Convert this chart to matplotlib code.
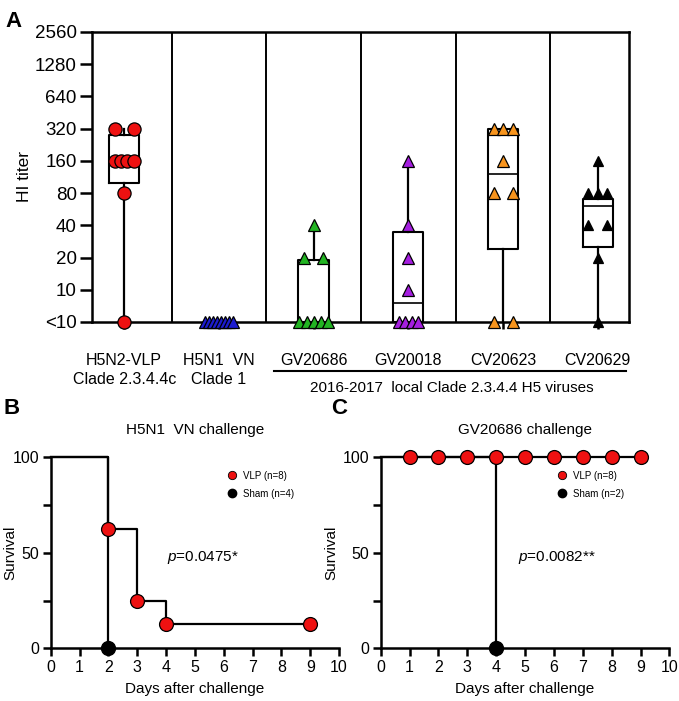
import numpy as np
import matplotlib.pyplot as plt
from matplotlib.lines import Line2D
import matplotlib.transforms as mtransforms

plt.rcParams['font.family'] = ['Liberation Sans', 'DejaVu Sans']
plt.rcParams['mathtext.fontset'] = 'custom'
plt.rcParams['mathtext.rm'] = 'Liberation Sans'
plt.rcParams['mathtext.it'] = 'Liberation Sans:italic'

# ---- panel A data (5 stands for "<10") ----
groups = ['H5N2-VLP\nClade 2.3.4.4c', 'H5N1  VN\nClade 1', 'GV20686',
          'GV20018', 'CV20623', 'CV20629']
vlp_titer = [320, 320, 160, 160, 160, 160, 80, 5]
vn_titer = [5, 5, 5, 5, 5, 5, 5, 5]
gv20686_titer = [40, 20, 20, 5, 5, 5, 5, 5]
gv20018_titer = [160, 40, 20, 10, 5, 5, 5, 5]
cv20623_titer = [320, 320, 320, 160, 80, 80, 5, 5]
cv20629_titer = [160, 80, 80, 80, 40, 40, 20, 5]
box_q1 = [100, 5, 5, 5, 24, 25]
box_med = [160, 5, 5, 7.5, 120, 60]
box_q3 = [280, 5, 19, 35, 320, 70]
ytick_vals = [5, 10, 20, 40, 80, 160, 320, 640, 1280, 2560]
ytick_labels = ['<10', '10', '20', '40', '80', '160', '320', '640', '1280', '2560']

titers = [vlp_titer, vn_titer, gv20686_titer, gv20018_titer, cv20623_titer, cv20629_titer]
colors = ['#ee1111', '#1c1cd0', '#22b422', '#a51ee0', '#f7941d', '#000000']
markers = ['o', '^', '^', '^', '^', '^']
msizes = [9.5, 9, 9, 9, 9, 7]

# ---- panel B / C data ----
b_vlp_days = [0, 2, 3, 4, 9]
b_vlp_surv = [100, 62.5, 25, 12.5, 12.5]
b_sham_days = [0, 2]
b_sham_surv = [100, 0]
c_vlp_days = [0, 1, 2, 3, 4, 5, 6, 7, 8, 9]
c_vlp_surv = [100, 100, 100, 100, 100, 100, 100, 100, 100, 100]
c_sham_days = [0, 4]
c_sham_surv = [100, 0]

fig = plt.figure(figsize=(6.79, 7.01), dpi=100)

# ================= panel A =================
axA = fig.add_axes([0.1355, 0.5407, 0.7909, 0.4137])
axA.set_yscale('log', base=2)
axA.set_ylim(5, 2560)
axA.set_xlim(-0.34, 5.33)

stats = []
for i in range(len(groups)):
    stats.append(dict(med=box_med[i], q1=box_q1[i], q3=box_q3[i],
                      whislo=min(titers[i]), whishi=max(titers[i]), fliers=[]))
axA.bxp(stats, positions=range(len(groups)), widths=0.32, showcaps=False,
        boxprops=dict(color='black', lw=1.5), whiskerprops=dict(color='black', lw=1.6),
        medianprops=dict(color='black', lw=1.2), manage_ticks=False, zorder=2)

for i, vals in enumerate(titers):
    vals = np.array(vals)
    for v in np.unique(vals):
        k = int((vals == v).sum())
        half = 0.0 if k == 1 else (0.1 if k <= 4 else 0.15)
        xs = i + np.linspace(-half, half, k)
        axA.plot(xs, [v] * k, ls='none', marker=markers[i], ms=msizes[i],
                 mfc=colors[i], mec='black', mew=0.9, clip_on=False, zorder=4)

for xs in np.arange(0.5, 5, 1):
    axA.axvline(xs, color='black', lw=1.4, zorder=1)

for s in axA.spines.values():
    s.set_linewidth(1.8)
axA.set_yticks(ytick_vals)
axA.set_yticklabels(ytick_labels)
axA.yaxis.set_minor_locator(plt.NullLocator())
axA.tick_params(axis='y', length=9, width=1.8, labelsize=13.5, pad=2)
axA.set_xticks(range(len(groups)))
axA.set_xticklabels(groups, linespacing=1.35)
axA.tick_params(axis='x', length=5, width=1.8, labelsize=11.5, pad=17)
axA.set_ylabel('HI titer', fontsize=12.5, labelpad=2)

trans = mtransforms.blended_transform_factory(fig.transFigure, axA.transAxes)
axA.add_line(Line2D([274 / 679, 626 / 679], [-0.169, -0.169], color='black', lw=1.5,
                    transform=trans, clip_on=False))
axA.text(452 / 679, -0.228, '2016-2017  local Clade 2.3.4.4 H5 viruses', transform=trans,
         ha='center', va='center', fontsize=11)

fig.text(0.008, 0.985, 'A', fontsize=16, fontweight='bold', va='top')
fig.text(0.005, 0.432, 'B', fontsize=16, fontweight='bold', va='top')
fig.text(0.487, 0.432, 'C', fontsize=16, fontweight='bold', va='top')


# ================= panels B, C =================
def survival_panel(ax, vlp_d, vlp_s, sham_d, sham_s, title, ptext, px, n_vlp, n_sham, ylab_x):
    ax.step(vlp_d, vlp_s, where='post', color='black', lw=1.6, zorder=2, clip_on=False)
    ax.step(sham_d, sham_s, where='post', color='black', lw=1.6, zorder=2, clip_on=False)
    ax.plot(vlp_d[1:], vlp_s[1:], ls='none', marker='o', ms=10, mfc='#ee1111',
            mec='black', mew=0.9, zorder=4, clip_on=False)
    ax.plot(sham_d[1:], sham_s[1:], ls='none', marker='o', ms=10, mfc='black',
            mec='black', zorder=4, clip_on=False)
    ax.set_xlim(0, 10)
    ax.set_ylim(0, 100)
    ax.set_xticks(range(11))
    ax.set_yticks([0, 25, 50, 75, 100])
    ax.set_yticklabels(['0', '', '50', '', '100'])
    for side in ['top', 'right']:
        ax.spines[side].set_visible(False)
    for side in ['left', 'bottom']:
        ax.spines[side].set_linewidth(1.8)
    ax.tick_params(length=5.5, width=1.8, labelsize=11.5, pad=3)
    ax.set_xlabel('Days after challenge', fontsize=11, labelpad=5)
    ax.set_ylabel('Survival', fontsize=11)
    ax.yaxis.set_label_coords(ylab_x, 0.5)
    ax.set_title(title, fontsize=11, pad=17)
    ax.text(px, 47.8, ptext, fontsize=11, va='center', ha='left')
    handles = [Line2D([], [], ls='none', marker='o', ms=6, mfc='#ee1111', mec='black', mew=0.6,
                      label='VLP (n=%d)' % n_vlp),
               Line2D([], [], ls='none', marker='o', ms=6, mfc='black', mec='black',
                      label='Sham (n=%d)' % n_sham)]
    ax.legend(handles=handles, loc='upper left', bbox_to_anchor=(0.58, 0.95), frameon=False,
              fontsize=7, handletextpad=0.2, labelspacing=0.8, borderaxespad=0)


axB = fig.add_axes([0.0747, 0.0752, 0.4246, 0.2724])
survival_panel(axB, b_vlp_days, b_vlp_surv, b_sham_days, b_sham_surv,
               'H5N1  VN challenge', r'$p$=0.0475*', 4.04, 8, 4, -0.115)
axC = fig.add_axes([0.5607, 0.0752, 0.4252, 0.2724])
survival_panel(axC, c_vlp_days, c_vlp_surv, c_sham_days, c_sham_surv,
               'GV20686 challenge', r'$p$=0.0082**', 4.75, 8, 2, -0.148)

fig.savefig('out.png', dpi=100)
